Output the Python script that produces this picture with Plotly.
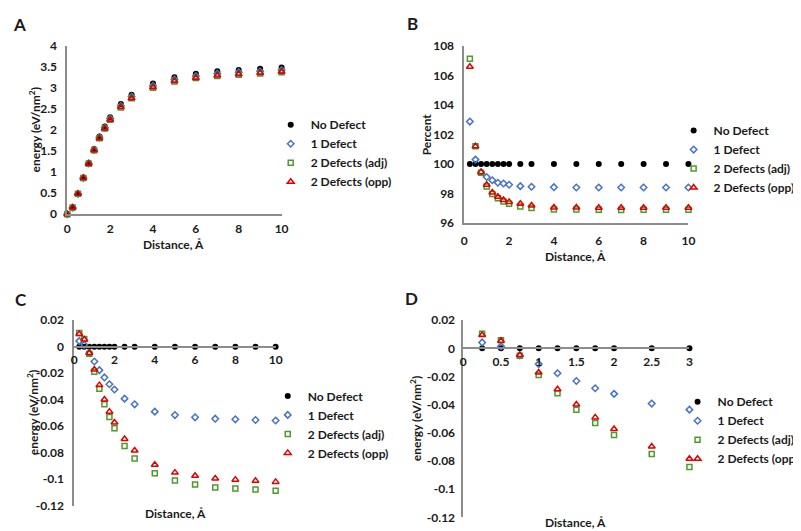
import plotly.graph_objects as go

W, H = 801, 531

# ---------------- data ----------------
dist_a = [0, 0.25, 0.5, 0.75, 1, 1.25, 1.5, 1.75, 2, 2.5, 3, 4, 5, 6, 7, 8, 9, 10]
a_none = [0, 0.15, 0.48, 0.87, 1.22, 1.55, 1.85, 2.09, 2.31, 2.62, 2.84, 3.11, 3.26, 3.34, 3.40, 3.43, 3.46, 3.49]
a_one = [0, 0.154, 0.48, 0.865, 1.21, 1.53, 1.83, 2.06, 2.28, 2.58, 2.80, 3.06, 3.21, 3.29, 3.35, 3.38, 3.40, 3.43]
a_adj = [0, 0.16, 0.49, 0.865, 1.20, 1.52, 1.81, 2.04, 2.25, 2.54, 2.76, 3.01, 3.16, 3.24, 3.29, 3.32, 3.35, 3.38]
a_opp = [0, 0.16, 0.49, 0.865, 1.20, 1.52, 1.81, 2.04, 2.25, 2.55, 2.76, 3.02, 3.17, 3.24, 3.30, 3.33, 3.36, 3.39]

dist = [0.25, 0.5, 0.75, 1, 1.25, 1.5, 1.75, 2, 2.5, 3, 4, 5, 6, 7, 8, 9, 10]
b_none = [100] * 17
b_one = [102.88, 100.3, 99.45, 99.12, 98.90, 98.73, 98.68, 98.59, 98.50, 98.46, 98.43, 98.41, 98.41, 98.41, 98.41, 98.41, 98.41]
b_adj = [107.15, 101.2, 99.40, 98.48, 97.96, 97.67, 97.45, 97.30, 97.12, 97.01, 96.92, 96.92, 96.90, 96.88, 96.90, 96.90, 96.90]
b_opp = [106.6, 101.2, 99.45, 98.59, 98.07, 97.78, 97.56, 97.43, 97.30, 97.19, 97.05, 97.05, 97.03, 97.03, 97.03, 97.03, 97.03]

c_none = [0] * 17
c_one = [0.0042, 0.0014, -0.005, -0.0112, -0.0177, -0.0232, -0.0283, -0.0323, -0.0392, -0.0435,
         -0.049, -0.0516, -0.0533, -0.0543, -0.0548, -0.0553, -0.0557]
c_adj = [0.0103, 0.0057, -0.0053, -0.0190, -0.0318, -0.0435, -0.0530, -0.0615, -0.0750, -0.0843,
         -0.0954, -0.1010, -0.1040, -0.1062, -0.1070, -0.1077, -0.1087]
c_opp = [0.0095, 0.0054, -0.0048, -0.0172, -0.0290, -0.0398, -0.0490, -0.0572, -0.0697, -0.0783,
         -0.0890, -0.0950, -0.0974, -0.0994, -0.1003, -0.1012, -0.1020]
n_d = 10  # panel D shows points up to 3 Å

names = ["No Defect", "1 Defect", "2 Defects (adj)", "2 Defects (opp)"]

xt_10 = [0, 2, 4, 6, 8, 10]
xt_3 = [0, 0.5, 1, 1.5, 2, 2.5, 3]
xt_3_txt = ["0", "0.5", "1", "1.5", "2", "2.5", "3"]
yt_a = [0, 0.5, 1, 1.5, 2, 2.5, 3, 3.5, 4]
yt_a_txt = ["0", "0.5", "1", "1.5", "2", "2.5", "3", "3.5", "4"]
yt_b = [96, 98, 100, 102, 104, 106, 108]
yt_c = [0.02, 0, -0.02, -0.04, -0.06, -0.08, -0.1, -0.12]
yt_c_txt = ["0.02", "0", "-0.02", "-0.04", "-0.06", "-0.08", "-0.1", "-0.12"]

# ---------------- style ----------------
FONT = "Lato"
TXT = "#1a1a1a"
AXC = "#8c8c8c"
styles = [
    dict(symbol="circle", size=6, color="black", line=dict(color="black", width=0)),
    dict(symbol="diamond-open", size=5, color="#4472C4", line=dict(color="#4472C4", width=1.5)),
    dict(symbol="square-open", size=5, color="#4E9A2E", line=dict(color="#4E9A2E", width=1.5)),
    dict(symbol="triangle-up-open", size=6, color="#E00000", line=dict(color="#E00000", width=1.5)),
]

def px_x(p):
    return p / W

def px_y(p):
    return 1 - p / H

fig = go.Figure()

panels = [
    ("x", "y", "legend", [dist_a] * 4, [a_none, a_one, a_adj, a_opp]),
    ("x2", "y2", "legend2", [dist] * 4, [b_none, b_one, b_adj, b_opp]),
    ("x3", "y3", "legend3", [dist] * 4, [c_none, c_one, c_adj, c_opp]),
    ("x4", "y4", "legend4", [dist[:n_d]] * 4, [c_none[:n_d], c_one[:n_d], c_adj[:n_d], c_opp[:n_d]]),
]
for xa, ya, lg, xs, ys in panels:
    for i in range(4):
        fig.add_trace(go.Scatter(
            x=xs[i], y=ys[i], mode="markers", name=names[i], marker=styles[i],
            xaxis=xa, yaxis=ya, legend=lg, cliponaxis=False))

tickfont = dict(family=FONT, size=12, color=TXT, weight="bold")

def xax(dom, rng, tv, tt, ticklen, **kw):
    d = dict(domain=[px_x(dom[0]), px_x(dom[1])], range=rng, tickvals=tv, ticktext=tt,
             showline=True, linecolor=AXC, linewidth=1.6, showgrid=False, zeroline=False,
             ticks="outside", ticklen=ticklen, tickcolor="rgba(0,0,0,0)", tickfont=tickfont)
    d.update(kw)
    return d

def yax(dom, rng, tv, tt, ticklen, **kw):
    d = dict(domain=[px_y(dom[1]), px_y(dom[0])], range=rng, tickvals=tv, ticktext=tt,
             showline=True, linecolor=AXC, linewidth=1.6, showgrid=False, zeroline=False,
             ticks="outside", ticklen=ticklen, tickcolor="rgba(0,0,0,0)", tickfont=tickfont)
    d.update(kw)
    return d

# pixel boxes of the four plot areas
A = dict(x=(57, 274), y=(31, 204))
B = dict(x=(459, 686), y=(31, 213))
C = dict(x=(64, 268), y=(313, 504))
D = dict(x=(458, 687), y=(313, 516))

def zero_pos(box, rng):
    y0, y1 = px_y(box["y"][1]), px_y(box["y"][0])
    return y0 + (0 - rng[0]) / (rng[1] - rng[0]) * (y1 - y0)

rc = [-0.12, 0.02]

layout = dict(
    width=W, height=H, margin=dict(l=0, r=0, t=0, b=0),
    paper_bgcolor="white", plot_bgcolor="white",
    font=dict(family=FONT, color=TXT),
    xaxis=xax(A["x"], [0, 10], xt_10, [str(v) for v in xt_10], 3, anchor="y"),
    yaxis=yax(A["y"], [0, 4], yt_a, yt_a_txt, 6, anchor="x"),
    xaxis2=xax(B["x"], [0, 10], xt_10, [str(v) for v in xt_10], 6, anchor="y2"),
    yaxis2=yax(B["y"], [96, 108], yt_b, [str(v) for v in yt_b], 6, anchor="x2"),
    xaxis3=xax(C["x"], [0, 10], xt_10, [str(v) for v in xt_10], 2, anchor="free",
               position=zero_pos(C, rc)),
    yaxis3=yax(C["y"], rc, yt_c, yt_c_txt, 6, anchor="x3"),
    xaxis4=xax(D["x"], [0, 3], xt_3, xt_3_txt, 2, anchor="free",
               position=zero_pos(D, rc)),
    yaxis4=yax(D["y"], rc, yt_c, yt_c_txt, 4, anchor="x4"),
)

legfont = dict(family=FONT, size=12, color=TXT, weight="bold")
def leg(text_x, first_y):
    return dict(x=px_x(text_x - 38), y=px_y(first_y - 10), xanchor="left", yanchor="top",
                bgcolor="rgba(0,0,0,0)", font=legfont, tracegroupgap=0, itemwidth=30)

layout["legend"] = leg(301, 107)
layout["legend2"] = leg(709, 113)
layout["legend3"] = leg(298, 386)
layout["legend4"] = leg(713, 392)
fig.update_layout(**layout)

def ann(text, x, y, size=12, angle=0):
    fig.add_annotation(text=text, x=px_x(x), y=px_y(y), xref="paper", yref="paper",
                       showarrow=False, textangle=angle, xanchor="center", yanchor="middle",
                       font=dict(family=FONT, size=size, color=TXT, weight="bold"))

for letter, x, y in [("A", 9, 9), ("B", 407, 8), ("C", 10, 292), ("D", 406, 291)]:
    ann(letter, x, y, size=17)
for x, y in [(165, 235), (572, 247), (167, 512), (572, 521)]:
    ann("Distance, Å", x, y)
ann("energy (eV/nm<sup>2</sup>)", 24, 117, angle=-90)
ann("Percent", 421, 122, angle=-90)
ann("energy (eV/nm<sup>2</sup>)", 23, 408, angle=-90)
ann("energy (eV/nm<sup>2</sup>)", 410, 414, angle=-90)

fig.write_html("out.html")
